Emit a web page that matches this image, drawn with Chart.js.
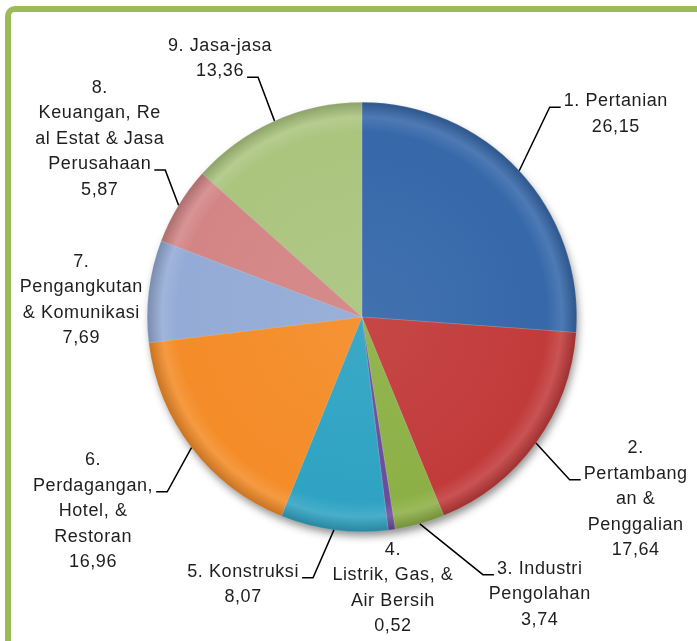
<!DOCTYPE html>
<html>
<head>
<meta charset="utf-8">
<script src="https://cdn.jsdelivr.net/npm/chart.js@4.4.0/dist/chart.umd.min.js"></script>
<style>
  html, body { margin: 0; padding: 0; background: #fff; overflow: hidden; }
  #wrap { width: 697px; height: 641px; position: relative; }
</style>
</head>
<body>
<div id="wrap"><canvas id="myChart" width="697" height="641"></canvas></div>
<script>
// data (PDRB share per sector, %)
var categories = ['Pertanian', 'Pertambangan & Penggalian', 'Industri Pengolahan', 'Listrik, Gas, & Air Bersih',
    'Konstruksi', 'Perdagangan, Hotel, & Restoran', 'Pengangkutan & Komunikasi',
    'Keuangan, Real Estat & Jasa Perusahaan', 'Jasa-jasa'];
var values = [26.15, 17.64, 3.74, 0.52, 8.07, 16.96, 7.69, 5.87, 13.36];
// label text as wrapped in the picture
var labelLines = [
    ['1. Pertanian'],
    ['2.', 'Pertambang', 'an &', 'Penggalian'],
    ['3. Industri', 'Pengolahan'],
    ['4.', 'Listrik, Gas, &', 'Air Bersih'],
    ['5. Konstruksi'],
    ['6.', 'Perdagangan,', 'Hotel, &', 'Restoran'],
    ['7.', 'Pengangkutan', '& Komunikasi'],
    ['8.', 'Keuangan, Re', 'al Estat & Jasa', 'Perusahaan'],
    ['9. Jasa-jasa']
];
var colors = ['#3668aa', '#c23b3b', '#8db046', '#6a4c9c', '#2fa3c3', '#f48c28', '#93abd6', '#d38585', '#abc57f'];

// label placement: [dx, dy] in radius units from pie center, side (+1 right, -1 left, 0 no leader), line the leader hits
var labelPlace = [
    [0.874, -0.977, 1, 0],
    [0.967, 0.758, 1, 1],
    [0.563, 1.200, 1, 0],
    [0.144, 1.084, 0, 0],
    [-0.228, 1.214, -1, 0],
    [-0.907, 0.814, -1, 1],
    [-1.307, -0.256, 0, 0],
    [-0.916, -0.684, -1, 3],
    [-0.484, -1.116, -1, 1]
];

function shade(hex, amt) {
    var n = parseInt(hex.slice(1), 16);
    var r = (n >> 16) & 255, g = (n >> 8) & 255, b = n & 255;
    function f(c) {
        c = amt > 0 ? c + (255 - c) * amt : c * (1 + amt);
        return Math.round(Math.max(0, Math.min(255, c)));
    }
    return 'rgb(' + f(r) + ',' + f(g) + ',' + f(b) + ')';
}

function sliceFill(ctx) {
    var chart = ctx.chart;
    var base = colors[ctx.dataIndex];
    var a = chart.chartArea;
    if (!a) return base;
    var cx = (a.left + a.right) / 2, cy = (a.top + a.bottom) / 2;
    var R = Math.min(a.right - a.left, a.bottom - a.top) / 2;
    var g = chart.ctx.createRadialGradient(cx, cy, 0, cx, cy, R);
    g.addColorStop(0, shade(base, 0.06));
    g.addColorStop(0.86, base);
    g.addColorStop(0.93, shade(base, 0.12));
    g.addColorStop(1, shade(base, -0.18));
    return g;
}

var framePlugin = {
    id: 'frame',
    beforeDraw: function(chart) {
        var c = chart.ctx;
        c.save();
        c.strokeStyle = '#9bbb59';
        c.lineWidth = 6;
        c.beginPath();
        c.roundRect(8, 9, 740, 700, 7);
        c.stroke();
        c.restore();
    },
    beforeDatasetsDraw: function(chart) {
        // soft shadow under the pie
        var arc = chart.getDatasetMeta(0).data[0];
        var c = chart.ctx;
        c.save();
        c.shadowColor = 'rgba(0,0,0,0.45)';
        c.shadowBlur = 9;
        c.shadowOffsetX = 2;
        c.shadowOffsetY = 5;
        c.fillStyle = '#888';
        c.beginPath();
        c.arc(arc.x, arc.y, arc.outerRadius - 1, 0, Math.PI * 2);
        c.fill();
        c.restore();
    }
};

var labelPlugin = {
    id: 'sliceLabels',
    afterDatasetsDraw: function(chart) {
        var c = chart.ctx;
        var meta = chart.getDatasetMeta(0);
        var lh = 25.5;
        c.save();
        c.font = '18px "Liberation Sans", Arial, sans-serif';
        c.letterSpacing = '0.6px';
        c.fillStyle = '#1e1e1e';
        c.textBaseline = 'middle';
        c.textAlign = 'center';
        meta.data.forEach(function(arc, i) {
            var p = labelPlace[i];
            var R = arc.outerRadius;
            var lines = labelLines[i].concat([values[i].toFixed(2).replace('.', ',')]);
            var ex = arc.x + p[0] * R, ey = arc.y + p[1] * R;
            var bx, by;
            if (p[2] === 0) {
                bx = ex; by = ey;
            } else {
                var mid = (arc.startAngle + arc.endAngle) / 2;
                var sx = arc.x + Math.cos(mid) * R, sy = arc.y + Math.sin(mid) * R;
                var hx = ex + p[2] * 11;
                c.beginPath();
                c.strokeStyle = '#000';
                c.lineWidth = 1.5;
                c.moveTo(sx, sy);
                c.lineTo(ex, ey);
                c.lineTo(hx, ey);
                c.stroke();
                var w = c.measureText(lines[p[3]]).width;
                bx = hx + p[2] * (3 + w / 2);
                by = ey - 6 - p[3] * lh;
            }
            lines.forEach(function(t, k) {
                c.fillText(t, bx, by + k * lh);
            });
        });
        c.restore();
    }
};

var ctx = document.getElementById('myChart').getContext('2d');
var myChart = new Chart(ctx, {
    type: 'pie',
    data: {
        labels: categories,
        datasets: [{
            data: values,
            backgroundColor: sliceFill,
            borderColor: 'rgba(255,255,255,0.25)',
            borderWidth: 0.5
        }]
    },
    options: {
        responsive: false,
        animation: false,
        layout: { padding: { left: 147, right: 120, top: 102, bottom: 109 } },
        plugins: {
            legend: { display: false },
            tooltip: { enabled: false }
        }
    },
    plugins: [framePlugin, labelPlugin]
});
</script>
</body>
</html>
